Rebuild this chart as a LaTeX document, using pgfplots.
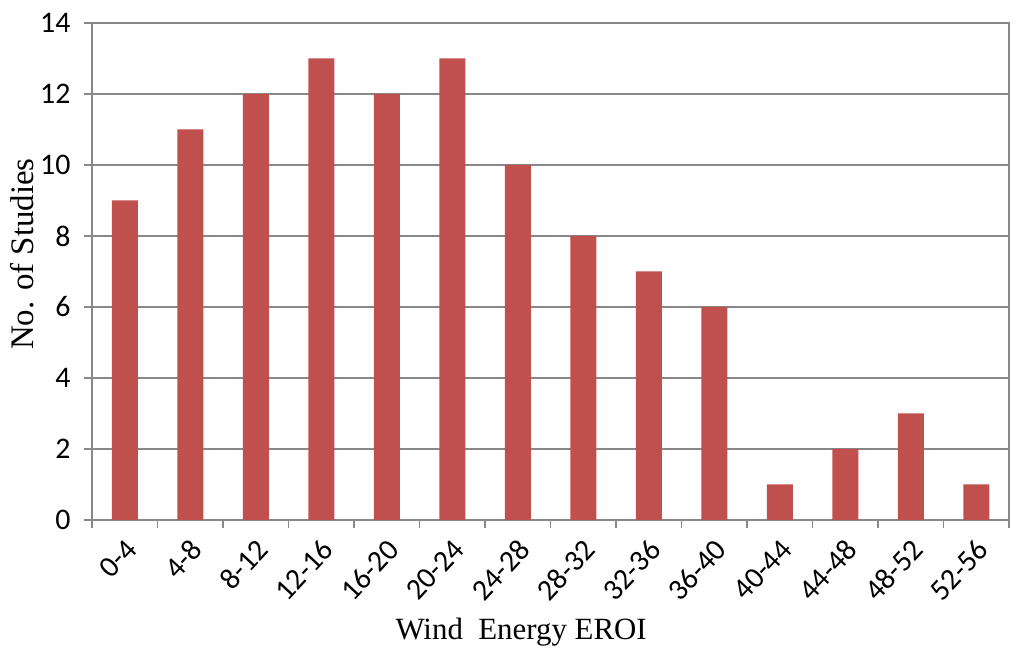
\documentclass[border=0pt]{standalone}
\usepackage{pgfplots}
\pgfplotsset{compat=1.18}
\usepackage{fontspec}
\setmainfont{Liberation Serif}
\newfontfamily\carl{Carlito}
\definecolor{barred}{HTML}{C0504D}
\definecolor{gridgray}{HTML}{888888}
\begin{document}
\begin{tikzpicture}[x=1bp,y=1bp]
\path[use as bounding box] (0,0) rectangle (1024,652);
\begin{axis}[
  at={(92bp,132bp)}, anchor=south west,
  scale only axis, width=917bp, height=497bp,
  xmin=-0.5, xmax=13.5, ymin=0, ymax=14,
  ytick={0,2,...,14},
  xtick={0,...,13},
  xticklabels={0-4,4-8,8-12,12-16,16-20,20-24,24-28,28-32,32-36,36-40,40-44,44-48,48-52,52-56},
  minor xtick={-0.5,0.5,...,13.5},
  xtick pos=bottom, ytick pos=left,
  major x tick style={draw=none},
  tick align=outside,
  major tick length=8bp, minor tick length=8bp,
  tick style={gridgray, line width=1.6bp},
  axis line style={gridgray, line width=1.6bp},
  ymajorgrids, major grid style={gridgray, line width=1.6bp},
  /pgf/number format/assume math mode=true,
  yticklabel style={font=\carl\fontsize{30}{34}\selectfont, xshift=-10bp},
  xticklabel style={font=\carl\fontsize{30}{34}\selectfont, rotate=47, anchor=east, xshift=-4bp, yshift=-16bp},
  xlabel={Wind\ \ Energy EROI},
  ylabel={No. of Studies},
  xlabel style={font=\fontsize{31}{34}\selectfont, at={(axis description cs:0.468,0)}, anchor=base, yshift=-120bp},
  ylabel style={font=\fontsize{33}{36}\selectfont, at={(axis description cs:0,0.535)}, anchor=center, yshift=70bp},
  clip=false,
]
\addplot[ybar, bar width=26bp, fill=barred, draw=none] coordinates {
(0,9) (1,11) (2,12) (3,13) (4,12) (5,13) (6,10) (7,8) (8,7) (9,6) (10,1) (11,2) (12,3) (13,1)
};
\end{axis}
\end{tikzpicture}
\end{document}
